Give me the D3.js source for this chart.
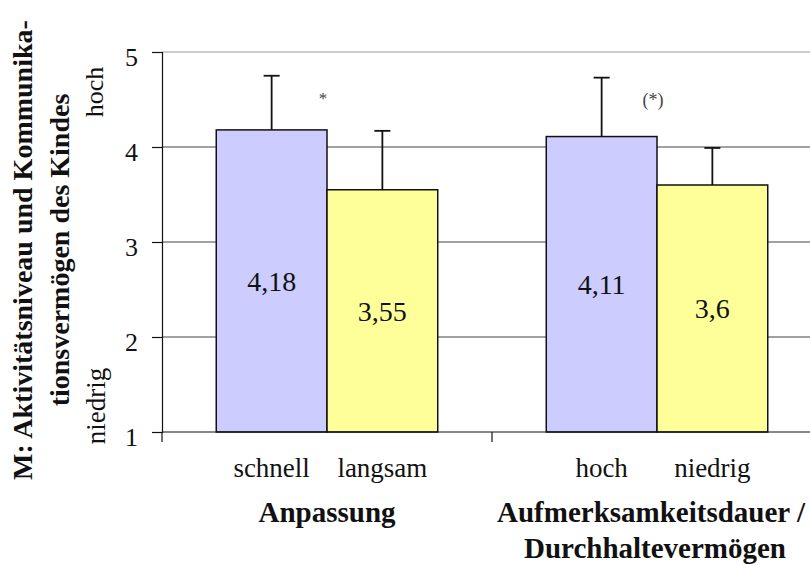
<!DOCTYPE html>
<html><head><meta charset="utf-8">
<script src="https://cdn.jsdelivr.net/npm/d3@7"></script>
<style>body{margin:0;background:#fff}svg{display:block}svg text{font-family:"Liberation Serif","Times New Roman",Times,serif !important}</style>
</head><body><svg id="c" width="810" height="565"></svg>
<script>
const groups = ["Anpassung", "Aufmerksamkeitsdauer /\nDurchhaltevermögen"];
const subLabels = [["schnell", "langsam"], ["hoch", "niedrig"]];
const means = [[4.18, 3.55], [4.11, 3.6]];
const meanLabels = [["4,18", "3,55"], ["4,11", "3,6"]];
const errTop = [[4.75, 4.17], [4.73, 3.99]];
const sigMarks = ["*", "(*)"];
const yTicks = [1, 2, 3, 4, 5];
const colors = ["#CCCCFF", "#FFFF99"];
const FONT = "Liberation Serif, Times New Roman, serif";

const svg = d3.select("#c");
const y = d3.scaleLinear().domain([1, 5]).range([432, 52]);
const x0 = d3.scaleBand().domain(groups).range([162, 822]);
const x1 = d3.scaleBand().domain([0, 1]).range([0, x0.bandwidth()]).paddingInner(0).paddingOuter(0.49);

// gridlines
svg.append("g").selectAll("line").data(yTicks.filter(d => d > 1)).join("line")
  .attr("x1", 162).attr("x2", 810).attr("y1", d => y(d)).attr("y2", d => y(d))
  .attr("stroke", d => d === 5 ? "#999" : "#444").attr("stroke-width", 1.2);

// bars
groups.forEach((g, gi) => {
  const gx = x0(g);
  const gEl = svg.append("g");
  [0, 1].forEach(i => {
    const bx = gx + x1(i), bw = x1.bandwidth(), cx = bx + bw / 2;
    gEl.append("line").attr("x1", cx).attr("x2", cx).attr("y1", y(means[gi][i])).attr("y2", y(errTop[gi][i]))
      .attr("stroke", "#111").attr("stroke-width", 1.8);
    gEl.append("line").attr("x1", cx - 8).attr("x2", cx + 8).attr("y1", y(errTop[gi][i])).attr("y2", y(errTop[gi][i]))
      .attr("stroke", "#111").attr("stroke-width", 1.8);
    gEl.append("rect").attr("x", bx).attr("width", bw).attr("y", y(means[gi][i])).attr("height", y(1) - y(means[gi][i]))
      .attr("fill", colors[i]).attr("stroke", "#111").attr("stroke-width", 1.5);
    gEl.append("text").attr("x", cx).attr("y", (y(means[gi][i]) + y(1)) / 2).attr("dy", "0.35em")
      .attr("text-anchor", "middle").attr("font-family", FONT).attr("font-size", 28).attr("fill", "#111").text(meanLabels[gi][i]);
    gEl.append("text").attr("x", cx).attr("y", 477).attr("text-anchor", "middle")
      .attr("font-family", FONT).attr("font-size", 27).attr("fill", "#111").text(subLabels[gi][i]);
  });
  const gc = gx + x0.bandwidth() / 2;
  gEl.append("text").attr("x", gc - 4).attr("y", gi === 0 ? 104 : 106).attr("text-anchor", "middle")
    .attr("font-family", FONT).attr("font-size", gi === 0 ? 17 : 18).attr("fill", "#444").text(sigMarks[gi]);
  const lines = g.split("\n");
  lines.forEach((l, li) => {
    gEl.append("text").attr("x", gc - (gi === 1 ? (li === 0 ? 6 : 2) : 0)).attr("y", 522 + li * 36).attr("text-anchor", "middle")
      .attr("font-family", FONT).attr("font-size", 29).attr("font-weight", "bold").attr("fill", "#111").text(l);
  });
});

// x axis
svg.append("line").attr("x1", 162).attr("x2", 810).attr("y1", y(1)).attr("y2", y(1)).attr("stroke", "#111").attr("stroke-width", 1.2);
svg.append("g").selectAll("line").data(groups.map(g => x0(g)).concat([x0.range()[1]])).join("line")
  .attr("x1", d => d).attr("x2", d => d).attr("y1", y(1)).attr("y2", y(1) + 10).attr("stroke", "#111").attr("stroke-width", 1.2);

// y axis
const ya = svg.append("g").attr("transform", "translate(162,0)")
  .call(d3.axisLeft(y).tickValues(yTicks).tickSize(10).tickPadding(14).tickFormat(d3.format("d")));
ya.attr("font-family", FONT);
ya.select(".domain").attr("stroke", "#111").attr("stroke-width", 1.2);
ya.selectAll(".tick line").attr("stroke", "#111").attr("stroke-width", 1.2);
ya.selectAll(".tick text").attr("font-size", 26).attr("font-family", FONT).attr("fill", "#111").attr("dy", "0.5em");

// hoch / niedrig
svg.append("text").attr("transform", "translate(103,92) rotate(-90)").attr("text-anchor", "middle")
  .attr("font-family", FONT).attr("font-size", 26).attr("fill", "#111").text("hoch");
svg.append("text").attr("transform", "translate(105,406) rotate(-90)").attr("text-anchor", "middle")
  .attr("font-family", FONT).attr("font-size", 27).attr("fill", "#111").text("niedrig");

// y title
const yTitle = ["M: Aktivitätsniveau und Kommunika-", "tionsvermögen des Kindes"];
yTitle.forEach((t, i) => {
  svg.append("text").attr("transform", `translate(${32 + i * 37},250) rotate(-90)`).attr("text-anchor", "middle")
    .attr("font-family", FONT).attr("font-size", 28).attr("font-weight", "bold").attr("fill", "#111").text(t);
});
</script></body></html>
